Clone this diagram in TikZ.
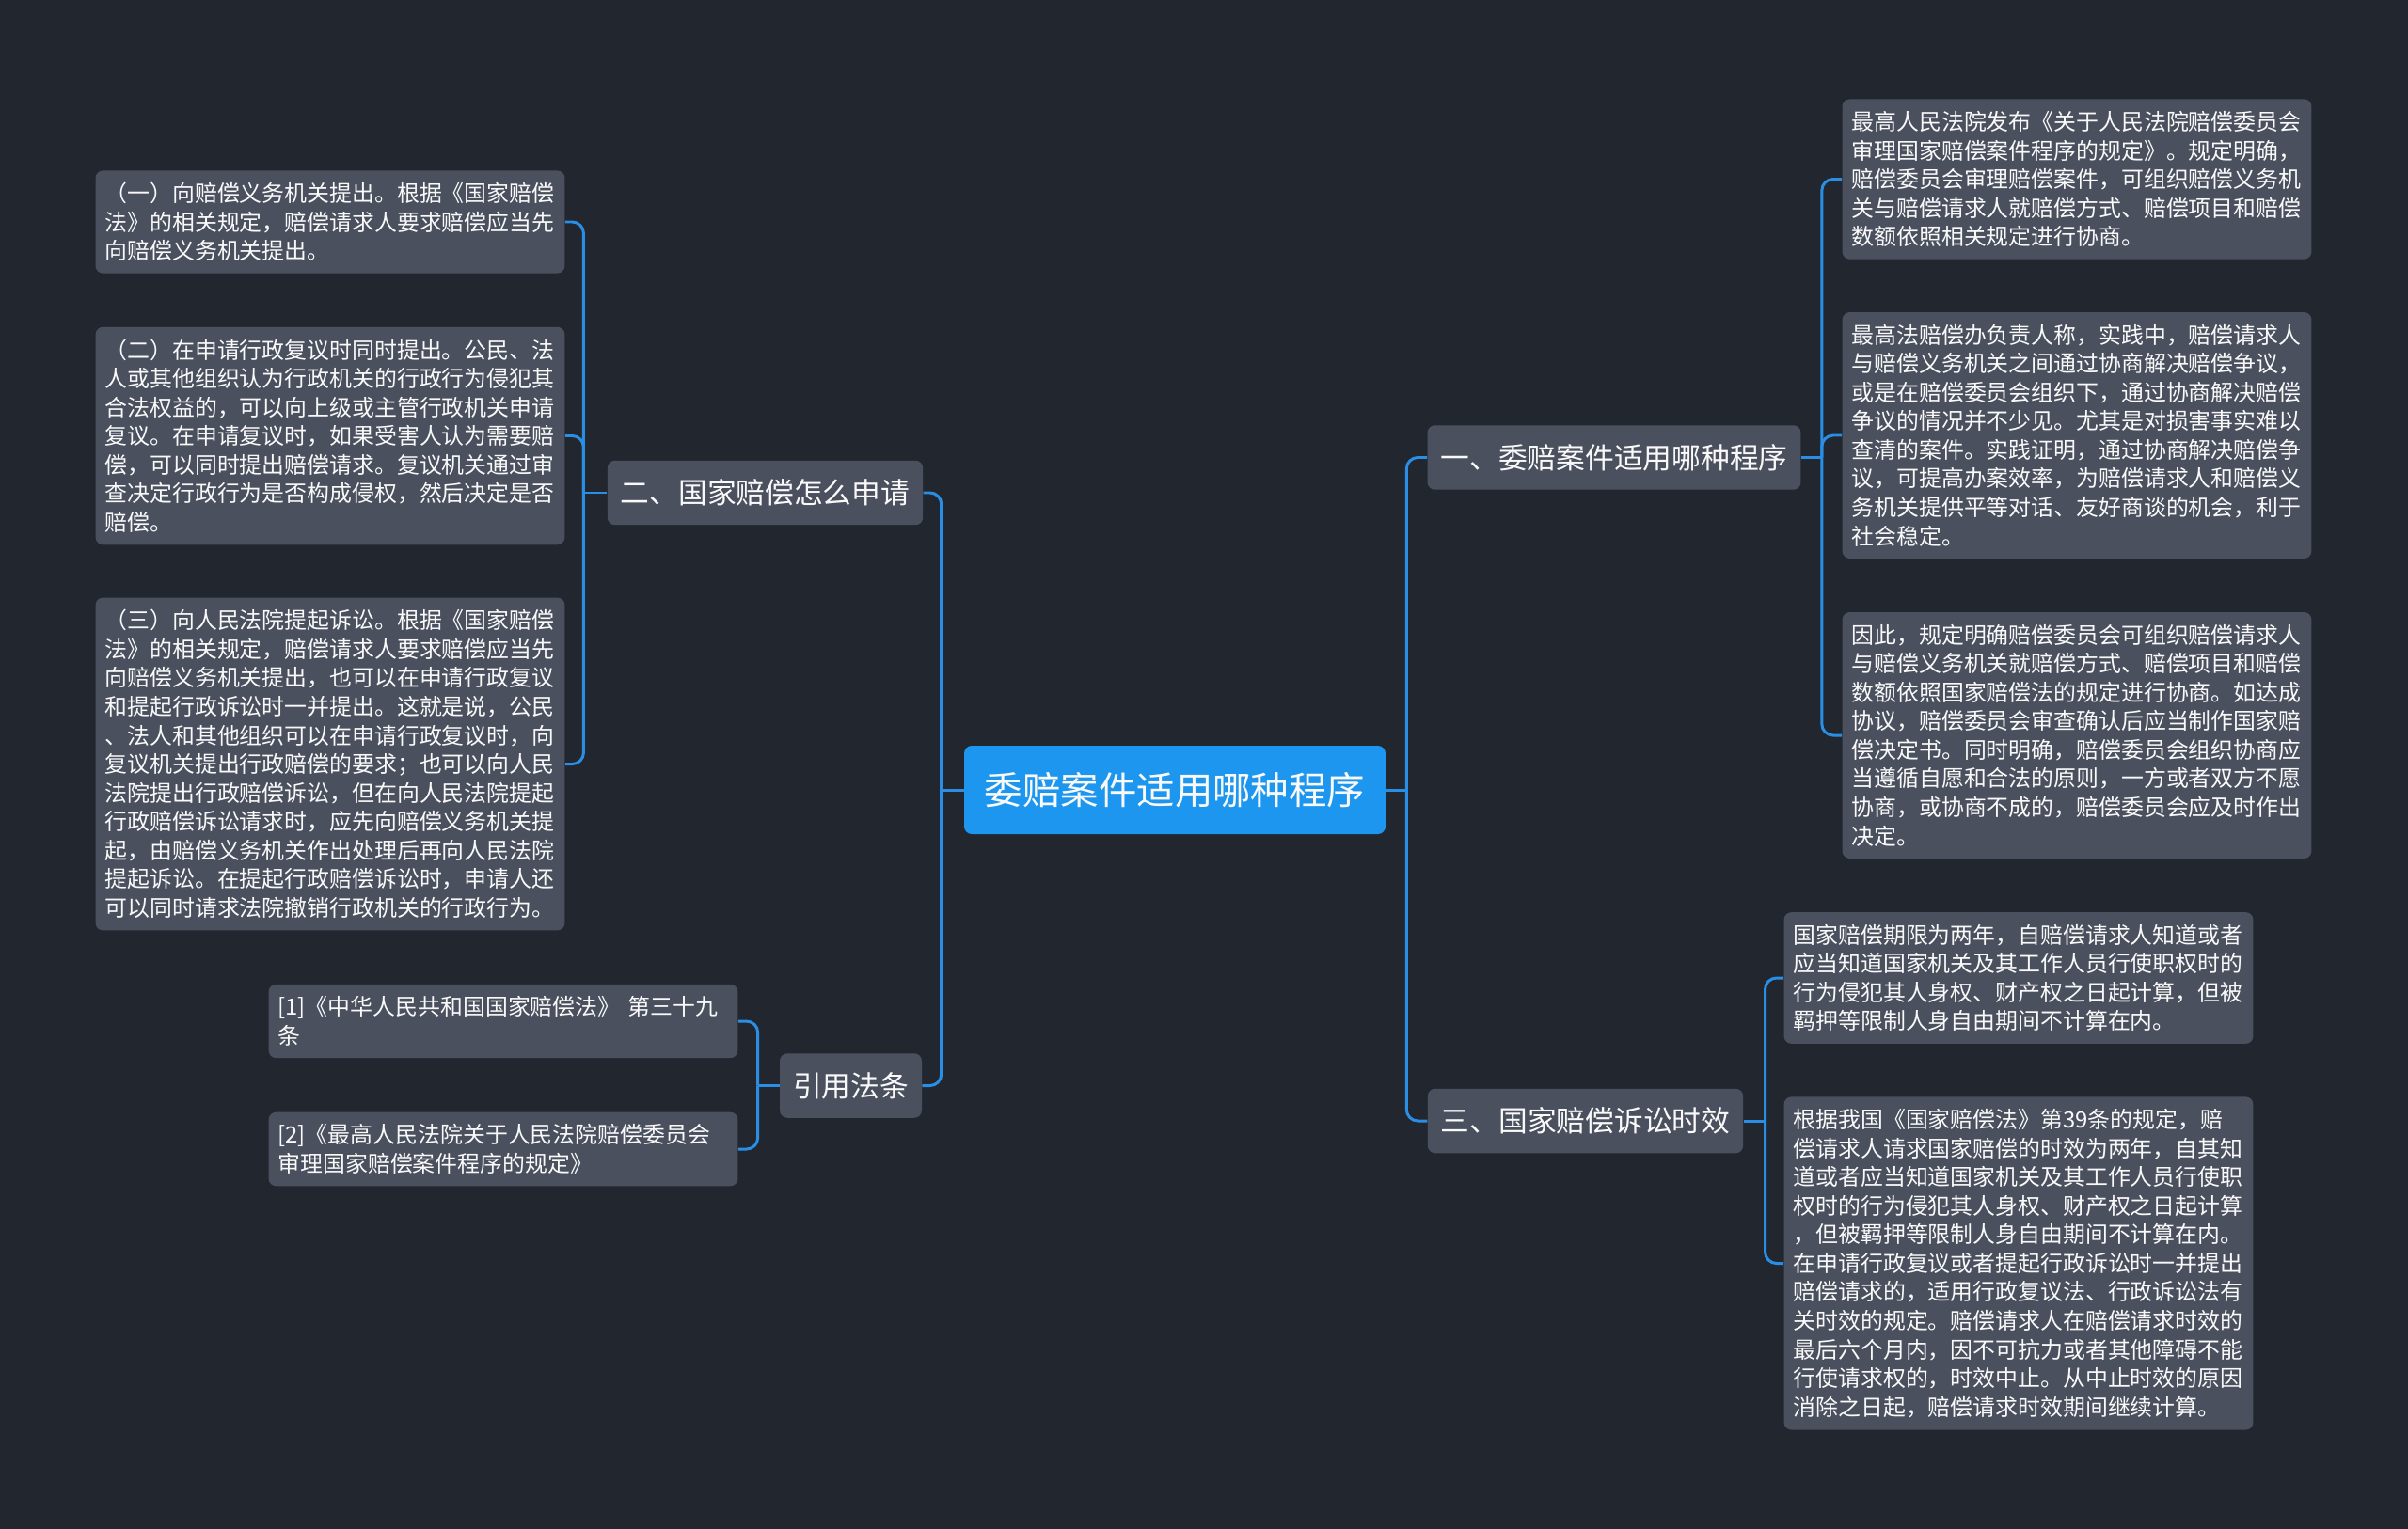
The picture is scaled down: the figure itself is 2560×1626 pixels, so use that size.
\documentclass[tikz,border=0pt]{standalone}
\usepackage{fontspec}
\usepackage{tikz}
\usetikzlibrary{positioning}
\newfontfamily\cjk{Noto Sans CJK SC}
\definecolor{BgDark}{HTML}{22262F}
\definecolor{NodeGray}{HTML}{4A505E}
\definecolor{RootBlue}{HTML}{1C96EE}
\definecolor{LinkBlue}{HTML}{2A8FE4}

\begin{document}
\begin{tikzpicture}[x=0.02cm, y=-0.02cm,
    every node/.style={text=white!95!gray, font=\cjk},
    rootbox/.style={fill=RootBlue, rounded corners=1.6mm, minimum width=8.96cm,
      minimum height=1.88cm, font=\cjk\fontsize{23}{28}\selectfont},
    topic/.style={fill=NodeGray, rounded corners=1.6mm, minimum height=1.37cm,
      inner xsep=0.28cm, font=\cjk\fontsize{17.5}{21}\selectfont},
    leaf/.style={fill=NodeGray, rounded corners=1.6mm, text width=9.58cm, align=left,
      inner xsep=0.2cm, inner ysep=7.3pt, font=\cjk\fontsize{13.6}{17.4}\selectfont},
    link/.style={LinkBlue, line width=1.7pt, rounded corners=0.24cm}]
  % background, fixes the page size
  \fill[BgDark] (0,0) rectangle (2560,1626);

  % centre topic
  \node[rootbox] (root) at (1249,840) {委赔案件适用哪种程序};

  % main branches
  \node[topic, minimum width=6.66cm] (apply) at (813.5,524) {二、国家赔偿怎么申请};
  \node[topic, minimum width=3.02cm] (refs) at (904.5,1154.5) {引用法条};
  \node[topic, minimum width=7.92cm] (proc) at (1716,486.5) {一、委赔案件适用哪种程序};
  \node[topic, minimum width=6.70cm] (limit) at (1685.5,1192) {三、国家赔偿诉讼时效};

  % left leaves
  \node[leaf] (apply1) at (351,236) {（一）向赔偿义务机关提出。根据《国家赔偿\\法》的相关规定，赔偿请求人要求赔偿应当先\\向赔偿义务机关提出。};
  \node[leaf] (apply2) at (351,463.5) {（二）在申请行政复议时同时提出。公民、法\\人或其他组织认为行政机关的行政行为侵犯其\\合法权益的，可以向上级或主管行政机关申请\\复议。在申请复议时，如果受害人认为需要赔\\偿，可以同时提出赔偿请求。复议机关通过审\\查决定行政行为是否构成侵权，然后决定是否\\赔偿。};
  \node[leaf] (apply3) at (351,812.5) {（三）向人民法院提起诉讼。根据《国家赔偿\\法》的相关规定，赔偿请求人要求赔偿应当先\\向赔偿义务机关提出，也可以在申请行政复议\\和提起行政诉讼时一并提出。这就是说，公民\\、法人和其他组织可以在申请行政复议时，向\\复议机关提出行政赔偿的要求；也可以向人民\\法院提出行政赔偿诉讼，但在向人民法院提起\\行政赔偿诉讼请求时，应先向赔偿义务机关提\\起，由赔偿义务机关作出处理后再向人民法院\\提起诉讼。在提起行政赔偿诉讼时，申请人还\\可以同时请求法院撤销行政机关的行政行为。};
  \node[leaf] (refs1) at (535,1086) {[1]《中华人民共和国国家赔偿法》 第三十九\\条};
  \node[leaf] (refs2) at (535,1222) {[2]《最高人民法院关于人民法院赔偿委员会\\审理国家赔偿案件程序的规定》};

  % right leaves
  \node[leaf] (proc1) at (2208,190.5) {最高人民法院发布《关于人民法院赔偿委员会\\审理国家赔偿案件程序的规定》。规定明确，\\赔偿委员会审理赔偿案件，可组织赔偿义务机\\关与赔偿请求人就赔偿方式、赔偿项目和赔偿\\数额依照相关规定进行协商。};
  \node[leaf] (proc2) at (2208,463) {最高法赔偿办负责人称，实践中，赔偿请求人\\与赔偿义务机关之间通过协商解决赔偿争议，\\或是在赔偿委员会组织下，通过协商解决赔偿\\争议的情况并不少见。尤其是对损害事实难以\\查清的案件。实践证明，通过协商解决赔偿争\\议，可提高办案效率，为赔偿请求人和赔偿义\\务机关提供平等对话、友好商谈的机会，利于\\社会稳定。};
  \node[leaf] (proc3) at (2208,782) {因此，规定明确赔偿委员会可组织赔偿请求人\\与赔偿义务机关就赔偿方式、赔偿项目和赔偿\\数额依照国家赔偿法的规定进行协商。如达成\\协议，赔偿委员会审查确认后应当制作国家赔\\偿决定书。同时明确，赔偿委员会组织协商应\\当遵循自愿和合法的原则，一方或者双方不愿\\协商，或协商不成的，赔偿委员会应及时作出\\决定。};
  \node[leaf] (limit1) at (2146,1040) {国家赔偿期限为两年，自赔偿请求人知道或者\\应当知道国家机关及其工作人员行使职权时的\\行为侵犯其人身权、财产权之日起计算，但被\\羁押等限制人身自由期间不计算在内。};
  \node[leaf] (limit2) at (2146,1343.5) {根据我国《国家赔偿法》第39条的规定，赔\\偿请求人请求国家赔偿的时效为两年，自其知\\道或者应当知道国家机关及其工作人员行使职\\权时的行为侵犯其人身权、财产权之日起计算\\，但被羁押等限制人身自由期间不计算在内。\\在申请行政复议或者提起行政诉讼时一并提出\\赔偿请求的，适用行政复议法、行政诉讼法有\\关时效的规定。赔偿请求人在赔偿请求时效的\\最后六个月内，因不可抗力或者其他障碍不能\\行使请求权的，时效中止。从中止时效的原因\\消除之日起，赔偿请求时效期间继续计算。};

  % junction points of the connectors
  \coordinate[left=0.48cm of root.west] (jroot0);
  \coordinate[right=0.44cm of root.east] (jroot1);
  \coordinate[left=0.5cm of apply.west] (japply);
  \coordinate[left=0.46cm of refs.west] (jrefs);
  \coordinate[right=0.44cm of proc.east] (jproc);
  \coordinate[right=0.46cm of limit.east] (jlimit);

  % connectors
  \draw[link] (root.west) -- (jroot0);
  \draw[link] (root.east) -- (jroot1);
  \foreach \c in {apply, refs} {
    \draw[link] (jroot0) |- (\c.east);
  }
  \foreach \c in {proc, limit} {
    \draw[link] (jroot1) |- (\c.west);
  }
  \draw[link] (apply.west) -- (japply);
  \foreach \c in {apply1, apply2, apply3} {
    \draw[link] (japply) |- (\c.east);
  }
  \draw[link] (refs.west) -- (jrefs);
  \foreach \c in {refs1, refs2} {
    \draw[link] (jrefs) |- (\c.east);
  }
  \draw[link] (proc.east) -- (jproc);
  \foreach \c in {proc1, proc2, proc3} {
    \draw[link] (jproc) |- (\c.west);
  }
  \draw[link] (limit.east) -- (jlimit);
  \foreach \c in {limit1, limit2} {
    \draw[link] (jlimit) |- (\c.west);
  }
\end{tikzpicture}
\end{document}
